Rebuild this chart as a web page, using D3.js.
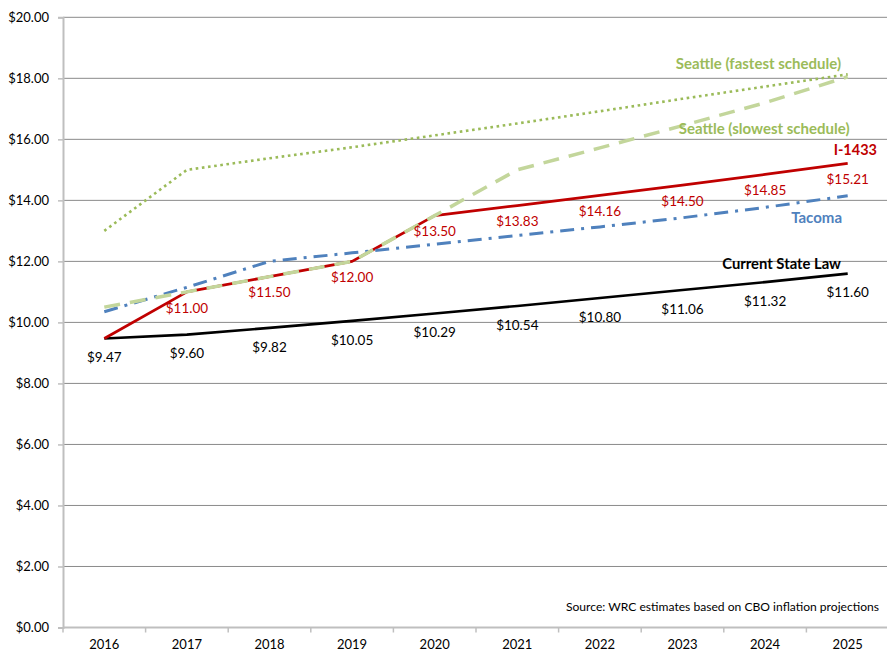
<!DOCTYPE html>
<html>
<head>
<meta charset="utf-8">
<script src="https://cdn.jsdelivr.net/npm/d3@7/dist/d3.min.js"></script>
<style>
  html, body { margin: 0; padding: 0; background: #fff; }
  svg { display: block; font-family: Lato, "Open Sans", sans-serif; }
</style>
</head>
<body>
<svg id="chart" width="887" height="650"></svg>
<script>
// Minimum wage projections, 2016-2025
const years = ["2016","2017","2018","2019","2020","2021","2022","2023","2024","2025"];
const stateLaw = [9.47, 9.60, 9.82, 10.05, 10.29, 10.54, 10.80, 11.06, 11.32, 11.60];
const i1433 = [9.47, 11.00, 11.50, 12.00, 13.50, 13.83, 14.16, 14.50, 14.85, 15.21];
const tacoma = [10.35, 11.15, 12.00, 12.28, 12.56, 12.85, 13.13, 13.43, 13.77, 14.15];
const seattleSlow = [10.50, 11.00, 11.50, 12.00, 13.50, 15.00, 15.72, 16.45, 17.20, 18.05];
const seattleFast = [13.00, 15.00, 15.38, 15.74, 16.13, 16.52, 16.92, 17.33, 17.73, 18.13];
const yTicks = [0, 2, 4, 6, 8, 10, 12, 14, 16, 18, 20];
const sourceNote = "Source: WRC estimates based on CBO inflation projections";

const svg = d3.select("#chart");
const plotLeft = 63, plotRight = 889, plotTop = 17.3, plotBottom = 627.5;

const x = d3.scaleBand().domain(years).range([plotLeft, plotRight]);
const cx = d => x(d) + x.bandwidth() / 2;
const y = d3.scaleLinear().domain([0, 20]).range([plotBottom, plotTop]);

// horizontal gridlines
svg.append("g")
  .selectAll("line")
  .data(yTicks.filter(v => v > 0))
  .join("line")
  .attr("x1", plotLeft).attr("x2", plotRight)
  .attr("y1", d => y(d)).attr("y2", d => y(d))
  .attr("stroke", "#8a8a8a").attr("stroke-width", 1);

// y axis
const yAxis = svg.append("g")
  .attr("transform", `translate(${plotLeft},0)`)
  .call(d3.axisLeft(y).tickValues(yTicks).tickFormat(d => "$" + d.toFixed(2)).tickSize(5).tickPadding(9));
yAxis.select(".domain").attr("stroke", "#bfbfbf").attr("stroke-width", 2);
yAxis.selectAll(".tick line").attr("stroke", "#bfbfbf").attr("stroke-width", 1.5);
yAxis.selectAll("text").attr("font-size", 13).attr("fill", "#000").attr("font-family", "Lato, sans-serif");

// x axis with ticks on category boundaries
const xAxisG = svg.append("g").attr("transform", `translate(0,${plotBottom})`);
xAxisG.append("line")
  .attr("x1", plotLeft).attr("x2", plotRight)
  .attr("stroke", "#bfbfbf").attr("stroke-width", 2);
xAxisG.selectAll("line.tk")
  .data(years.map(d => x(d)).concat([plotRight]))
  .join("line").attr("class", "tk")
  .attr("x1", d => d).attr("x2", d => d)
  .attr("y1", 0).attr("y2", 5)
  .attr("stroke", "#bfbfbf").attr("stroke-width", 1.5);
xAxisG.selectAll("text")
  .data(years)
  .join("text")
  .attr("x", d => cx(d)).attr("y", 21)
  .attr("text-anchor", "middle")
  .attr("font-size", 13)
  .text(d => d);

const line = d3.line().x((d, i) => cx(years[i])).y(d => y(d));

function drawSeries(values, color, width, dash) {
  svg.append("path")
    .datum(values)
    .attr("d", line)
    .attr("fill", "none")
    .attr("stroke", color)
    .attr("stroke-width", width)
    .attr("stroke-linejoin", "round")
    .attr("stroke-dasharray", dash || null);
}

drawSeries(stateLaw, "#000000", 2.6);
drawSeries(i1433, "#c00000", 2.8);
drawSeries(tacoma, "#4f81bd", 3, "14,7,3,7");
drawSeries(seattleSlow, "#c3d69b", 3.5, "16,10");
drawSeries(seattleFast, "#9bbb59", 2.6, "2.6,3.6");

// value labels
svg.append("g").selectAll("text")
  .data(stateLaw)
  .join("text")
  .attr("x", (d, i) => cx(years[i]))
  .attr("y", d => y(d) + 19)
  .attr("dy", "0.35em")
  .attr("text-anchor", "middle")
  .attr("font-size", 13.5)
  .attr("fill", "#000")
  .text(d => "$" + d.toFixed(2));

svg.append("g").selectAll("text")
  .data(i1433.slice(1))
  .join("text")
  .attr("x", (d, i) => cx(years[i + 1]))
  .attr("y", d => y(d) + 16)
  .attr("dy", "0.35em")
  .attr("text-anchor", "middle")
  .attr("font-size", 13.5)
  .attr("fill", "#c00000")
  .text(d => "$" + d.toFixed(2));

// series names
function seriesName(text, xEnd, yMid, color, size) {
  svg.append("text")
    .attr("x", xEnd).attr("y", yMid)
    .attr("dy", "0.35em")
    .attr("text-anchor", "end")
    .attr("font-size", size)
    .attr("font-weight", "bold")
    .attr("fill", color)
    .text(text);
}
seriesName("Seattle (fastest schedule)", 841, 63.5, "#9bbb59", 15);
seriesName("Seattle (slowest schedule)", 849.5, 129, "#9bbb59", 15);
seriesName("I-1433", 877, 149.5, "#c00000", 14.5);
seriesName("Tacoma", 842, 217.5, "#4f81bd", 15);
seriesName("Current State Law", 841, 263.5, "#000000", 14.8);

// source note
svg.append("text")
  .attr("x", 879).attr("y", 606.5)
  .attr("dy", "0.35em")
  .attr("text-anchor", "end")
  .attr("font-size", 12.1)
  .attr("fill", "#000")
  .text(sourceNote);
</script>
</body>
</html>
